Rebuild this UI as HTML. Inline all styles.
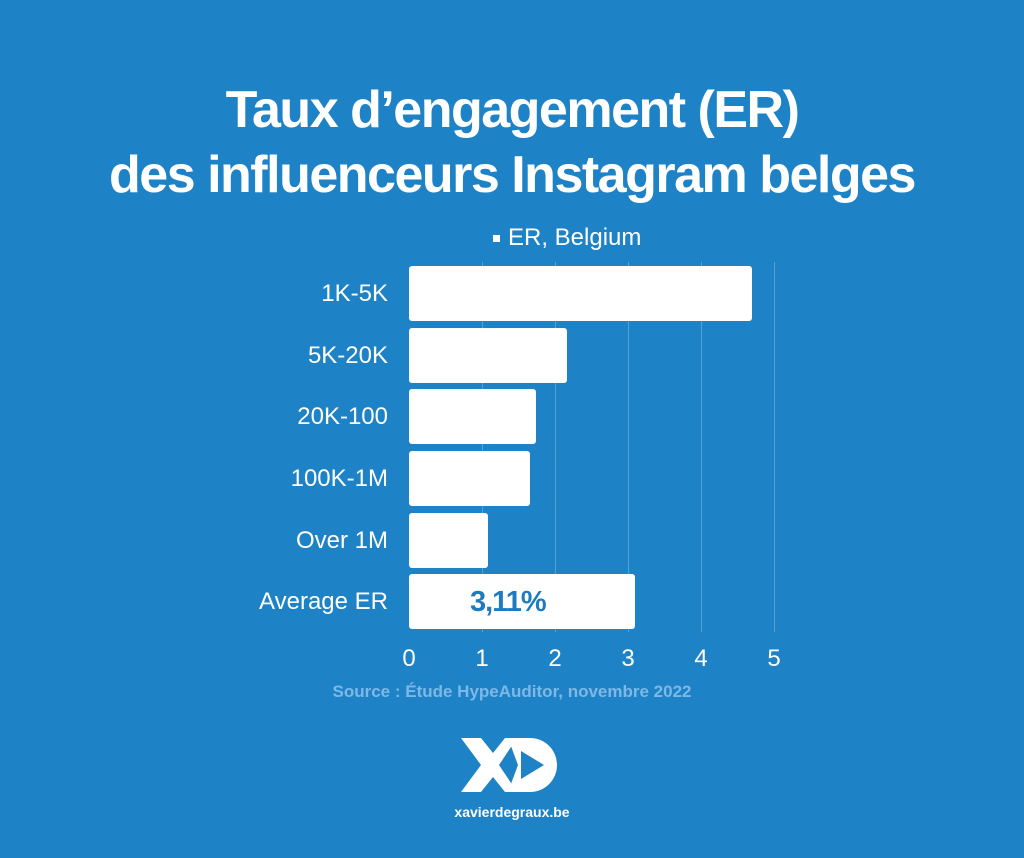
<!DOCTYPE html>
<html><head><style>
body{margin:0;width:1024px;height:858px;background:#1e82c6;font-family:"Liberation Sans",sans-serif;position:relative;overflow:hidden;color:#fff}
.t{position:absolute;left:0;width:1024px;text-align:center;font-weight:bold;font-size:52px;letter-spacing:-1.5px}
.lab{position:absolute;right:636px;font-size:24px;text-align:right;line-height:55px}
.bar{position:absolute;left:409px;height:55px;background:#fff;border-radius:3px}
.g{position:absolute;top:262px;height:370px;width:1px;background:rgba(255,255,255,0.25)}
.tk{position:absolute;top:645px;font-size:24px;width:40px;margin-left:-20px;text-align:center}
</style></head><body>
<div class="t" style="top:80px">Taux d’engagement (ER)</div>
<div class="t" style="top:145px">des influenceurs Instagram belges</div>
<div style="position:absolute;top:224px;left:493px;font-size:24px"><span style="display:inline-block;width:7px;height:7px;background:#fff;vertical-align:middle;margin-right:8px"></span>ER, Belgium</div>
<div class="g" style="left:482px"></div><div class="g" style="left:555px"></div><div class="g" style="left:628px"></div><div class="g" style="left:701px"></div><div class="g" style="left:774px"></div>
<div class="lab" style="top:266px">1K-5K</div><div class="bar" style="top:266px;width:343px"></div>
<div class="lab" style="top:328px">5K-20K</div><div class="bar" style="top:328px;width:158px"></div>
<div class="lab" style="top:389px">20K-100</div><div class="bar" style="top:389px;width:127px"></div>
<div class="lab" style="top:451px">100K-1M</div><div class="bar" style="top:451px;width:121px"></div>
<div class="lab" style="top:513px">Over 1M</div><div class="bar" style="top:513px;width:79px"></div>
<div class="lab" style="top:574px">Average ER</div><div class="bar" style="top:574px;width:226px"></div>
<div style="position:absolute;left:470px;top:586px;font-size:29px;font-weight:bold;color:#1e7bbd;letter-spacing:-1px">3,11%</div>
<div class="tk" style="left:409px">0</div><div class="tk" style="left:482px">1</div><div class="tk" style="left:555px">2</div><div class="tk" style="left:628px">3</div><div class="tk" style="left:701px">4</div><div class="tk" style="left:774px">5</div>
<div style="position:absolute;top:682px;left:0;width:1024px;text-align:center;font-size:17px;font-weight:bold;color:#7db8e6">Source : Étude HypeAuditor, novembre 2022</div>
<svg style="position:absolute;left:458px;top:735px" width="110" height="60" viewBox="0 0 110 60">
<path d="M3 3h20l12 15 12-15h12l-18 27 18 27h-12l-12-15-12 15h-20l20-27z" fill="#fff"/>
<path d="M50 3h22a27 27 0 0 1 0 54h-22l10-27z" fill="#fff"/>
<path d="M63 16v28l23-14z" fill="#1e82c6"/>
</svg>
<div style="position:absolute;top:804px;left:0;width:1024px;text-align:center;font-size:14px;font-weight:bold">xavierdegraux.be</div>
</body></html>
